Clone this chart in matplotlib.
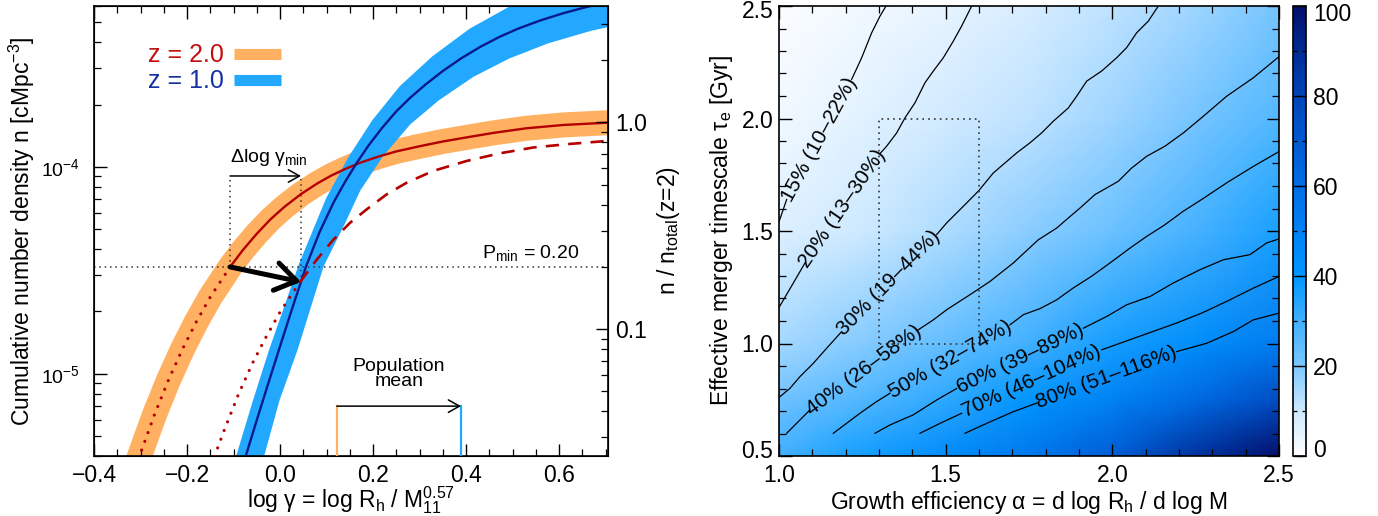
import numpy as np
import matplotlib
matplotlib.use('Agg')
import matplotlib.pyplot as plt
from matplotlib.colors import LinearSegmentedColormap
from matplotlib.ticker import FixedLocator, LogLocator, NullFormatter, FuncFormatter, MultipleLocator
from matplotlib.lines import Line2D
from matplotlib.transforms import ScaledTranslation, blended_transform_factory

plt.rcParams['font.family'] = ['Liberation Sans', 'DejaVu Sans']
plt.rcParams['mathtext.fontset'] = 'custom'
plt.rcParams['mathtext.rm'] = 'Liberation Sans'
plt.rcParams['mathtext.it'] = 'Liberation Sans:italic'
plt.rcParams['mathtext.bf'] = 'Liberation Sans:bold'
plt.rcParams['mathtext.default'] = 'regular'

# ---------------- left panel data ----------------
# z = 2.0 cumulative number density curve (log10 n)
x_z2 = [-0.33, -0.3026, -0.27, -0.24, -0.21, -0.18, -0.15, -0.1075, -0.08, -0.05, -0.02, 0.01,
        0.0452, 0.08, 0.11, 0.14, 0.172, 0.21, 0.25, 0.30, 0.35, 0.4015, 0.46, 0.53, 0.61, 0.705]
logn_z2 = [-5.582, -5.401, -5.198, -5.031, -4.882, -4.749, -4.629, -4.484, -4.402, -4.323, -4.252,
           -4.192, -4.131, -4.080, -4.042, -4.010, -3.980, -3.951, -3.925, -3.900, -3.877, -3.857,
           -3.835, -3.813, -3.797, -3.786]
i_start_z2 = 7  # solid part starts at gamma_min

# z = 1.0 curve (log10 n)
x_z1 = [-0.0735, -0.05, -0.025, 0.0, 0.0251, 0.056, 0.085, 0.115, 0.14, 0.165, 0.19, 0.2187,
        0.25, 0.28, 0.313, 0.35, 0.39, 0.43, 0.47, 0.51, 0.559, 0.61, 0.66, 0.705]
logn_z1 = [-5.396, -5.224, -5.044, -4.867, -4.691, -4.480, -4.315, -4.172, -4.071, -3.980, -3.897,
           -3.813, -3.731, -3.665, -3.601, -3.536, -3.474, -3.420, -3.373, -3.333, -3.292, -3.256,
           -3.226, -3.203]
# z = 1.0 uncertainty band edges
x_z1_up = [-0.105, -0.0946, -0.0581, -0.0237, 0.0065, 0.0409, 0.0989, 0.1473, 0.1987, 0.2572,
           0.3277, 0.4082, 0.491, 0.5419, 0.6022, 0.75]
logn_z1_up = [-5.47, -5.40, -5.128, -4.885, -4.691, -4.4675, -4.152, -3.951, -3.773, -3.610,
              -3.4646, -3.3306, -3.2272, -3.1772, -3.1374, -3.0]
x_z1_lo = [-0.05, -0.0344, -0.0011, 0.0376, 0.0645, 0.0935, 0.1398, 0.1725, 0.2213, 0.2802,
           0.3409, 0.4155, 0.4918, 0.5757, 0.6688, 0.7097, 0.7742]
logn_z1_lo = [-5.47, -5.40, -5.128, -4.885, -4.691, -4.482, -4.272, -4.114, -3.9485, -3.7937,
              -3.6786, -3.5646, -3.4767, -3.4029, -3.3417, -3.3218, -3.2927]

# shifted z = 2 curve (dashed above P_min, dotted below)
x_shift_hi = [0.043, 0.0467, 0.079, 0.115, 0.1505, 0.1864, 0.229, 0.2725, 0.3297, 0.4015,
              0.473, 0.5448, 0.6165, 0.705]
logn_shift_hi = [-4.556, -4.545, -4.448, -4.351, -4.270, -4.205, -4.133, -4.076, -4.019, -3.971,
                 -3.934, -3.906, -3.890, -3.874]
x_shift_lo = [0.043, 0.0005, -0.0295, -0.0595, -0.0895, -0.1195, -0.141, -0.16]
logn_shift_lo = [-4.556, -4.70, -4.82, -4.95, -5.10, -5.27, -5.40, -5.52]

n_total = 1.642e-4
p_min = 0.20
gamma_min = [-0.1075, 0.045]          # z=2 and z=1 at P_min
delta_arrow_n = 9.04e-5
arrow_end_n = 10 ** -4.556
pop_mean = [0.122, 0.389]             # z=2, z=1
pop_mean_n = 6.97e-6

# ---------------- right panel data ----------------
grid_alpha = [1.0, 1.25, 1.5, 1.75, 2.0, 2.25, 2.5]
grid_tau = [0.5, 0.75, 1.0, 1.5, 2.0, 2.5]
grid_val = [
    [30, 37, 45, 55, 68, 87, 100],
    [22, 27, 33, 41, 50, 62, 76],
    [15, 19, 24, 30, 37, 44, 53],
    [7, 10, 14, 18, 23, 29, 36],
    [3, 6, 9, 12, 16, 21, 27],
    [1, 3, 5, 8, 12, 16, 21],
]

contour_labels = ['15% (10–22%)', '20% (13–30%)', '30% (19–44%)', '40% (26–58%)',
                  '50% (32–74%)', '60% (39–89%)', '70% (46–104%)', '80% (51–116%)']
contour_a = [  # segment before label
    [(1.0, 1.541), (1.023, 1.64)],
    [(1.0, 1.16), (1.043, 1.269), (1.078, 1.358)],
    [(1.0, 0.76), (1.033, 0.801), (1.063, 0.853), (1.103, 0.912), (1.143, 0.979), (1.188, 1.053)],
    [(1.023, 0.601), (1.093, 0.705)],
    [(1.163, 0.601), (1.243, 0.69), (1.293, 0.742), (1.333, 0.779)],
    [(1.288, 0.601), (1.333, 0.638), (1.403, 0.683), (1.473, 0.749), (1.533, 0.80)],
    [(1.423, 0.601), (1.483, 0.645), (1.548, 0.69)],
    [(1.558, 0.601), (1.623, 0.645), (1.703, 0.697), (1.773, 0.735)],
]
contour_b = [  # segment after label
    [(1.218, 2.174), (1.248, 2.270), (1.278, 2.381), (1.303, 2.455), (1.321, 2.5)],
    [(1.303, 1.844), (1.323, 1.877), (1.353, 1.936), (1.378, 2.003), (1.408, 2.07), (1.438, 2.159),
     (1.463, 2.211), (1.493, 2.270), (1.523, 2.344), (1.548, 2.411), (1.578, 2.5)],
    [(1.473, 1.484), (1.503, 1.536), (1.543, 1.595), (1.598, 1.677), (1.643, 1.758), (1.713, 1.847),
     (1.753, 1.892), (1.788, 1.936), (1.823, 1.988), (1.868, 2.047), (1.893, 2.099), (1.923, 2.166),
     (1.968, 2.211), (2.013, 2.27), (2.043, 2.315), (2.073, 2.381), (2.108, 2.433), (2.138, 2.5)],
    [(1.418, 1.061), (1.463, 1.105), (1.503, 1.15), (1.573, 1.217), (1.633, 1.276), (1.703, 1.358),
     (1.778, 1.461), (1.833, 1.513), (1.868, 1.558), (1.903, 1.602), (1.948, 1.662),
     (2.018, 1.721), (2.058, 1.78), (2.103, 1.832), (2.158, 1.877), (2.213, 1.936), (2.273, 2.01),
     (2.343, 2.099), (2.423, 2.181), (2.5, 2.275)],
    [(1.693, 1.083), (1.733, 1.128), (1.783, 1.155), (1.833, 1.194), (1.883, 1.247), (1.938, 1.299),
     (1.993, 1.358), (2.053, 1.424), (2.103, 1.476), (2.155, 1.525), (2.213, 1.588), (2.268, 1.64),
     (2.343, 1.714), (2.423, 1.787), (2.5, 1.853)],
    [(1.913, 1.068), (1.983, 1.12), (2.043, 1.172), (2.113, 1.209), (2.183, 1.269), (2.263, 1.328),
     (2.333, 1.372), (2.413, 1.395), (2.463, 1.447), (2.5, 1.465)],
    [(1.968, 0.972), (2.023, 1.001), (2.108, 1.046), (2.193, 1.091), (2.268, 1.135), (2.343, 1.187),
     (2.423, 1.246), (2.5, 1.298)],
    [(2.193, 0.964), (2.283, 1.001), (2.363, 1.053), (2.423, 1.105), (2.5, 1.135)],
]
box_alpha = [1.3, 1.6]
box_tau = [1.0, 2.0]
tau_ticks_end = [0.5, 2.5]
cbar_ticks = [0, 20, 40, 60, 80, 100]

# ---------------- styles ----------------
ORANGE = '#FFB060'
BLUE = '#22A8FF'
RED = '#B40000'
NAVY = '#0A1A8C'
RED_T = '#C01010'
NAVY_T = '#1530A0'
FS_TICK = 16.5
FS_LAB = 16.5
DOT = (0, (1, 2.5))

def fmt1(v, pos=None):
    if abs(v) < 1e-9:
        v = 0.0
    return f'{v:.1f}'.replace('-', '\u2212')

fig = plt.figure(figsize=(13.78, 5.16), dpi=100)
W, H = 1378.0, 516.0

def px_offset(dx, dy):
    return ScaledTranslation(dx / 100.0, dy / 100.0, fig.dpi_scale_trans)

# ================= left panel =================
ax = fig.add_axes([94 / W, 60 / H, 514 / W, 450 / H])
ax.set_yscale('log')
ax.set_xlim(-0.4, 0.705)
ax.set_ylim(4e-6, 6e-4)

xz2 = np.array(x_z2); nz2 = 10 ** np.array(logn_z2)
ax.plot(xz2, nz2, color=ORANGE, lw=18, solid_capstyle='butt', solid_joinstyle='round', zorder=1)
poly_x = np.concatenate([x_z1_up, x_z1_lo[::-1]])
poly_y = 10 ** np.concatenate([logn_z1_up, logn_z1_lo[::-1]])
ax.fill(poly_x, poly_y, color=BLUE, lw=0, zorder=2)

dots = dict(color=RED, lw=2.3, ls=(0, (0.01, 2.9)), dash_capstyle='round', zorder=4)
ax.plot(xz2[:i_start_z2 + 1], nz2[:i_start_z2 + 1], **dots)
ax.plot(xz2[i_start_z2:], nz2[i_start_z2:], color=RED, lw=1.7, zorder=4)
ax.plot(x_z1, 10 ** np.array(logn_z1), color=NAVY, lw=1.7, zorder=4)
ax.plot(x_shift_hi, 10 ** np.array(logn_shift_hi), color=RED, lw=1.9, ls=(0, (5, 3.5)), zorder=4)
ax.plot(x_shift_lo, 10 ** np.array(logn_shift_lo), **dots)

# P_min line and gamma_min construction
pmin_n = p_min * n_total
ax.axhline(pmin_n, color='#333333', lw=1.1, ls=DOT, zorder=3)
ax.plot([gamma_min[0], gamma_min[0]], [pmin_n, delta_arrow_n], color='#333333', lw=1.1,
        ls=DOT, zorder=3)
ax.plot([gamma_min[1], gamma_min[1]], [arrow_end_n, delta_arrow_n], color='#333333', lw=1.1,
        ls=DOT, zorder=3)
ax.annotate('', xy=(gamma_min[1], delta_arrow_n), xytext=(gamma_min[0], delta_arrow_n),
            arrowprops=dict(arrowstyle='->,head_length=0.8,head_width=0.45', lw=1.1, color='k',
                            shrinkA=0, shrinkB=0, mutation_scale=10), zorder=5)
ax.text(gamma_min[0], 1.06e-4, 'Δlog γ$_{\\rm min}$', fontsize=14, ha='left', va='baseline')
ax.annotate('', xy=(gamma_min[1], arrow_end_n), xytext=(gamma_min[0], pmin_n),
            arrowprops=dict(arrowstyle='->,head_length=1.5,head_width=1.0', lw=3.6, color='k',
                            shrinkA=0, shrinkB=0, mutation_scale=10), zorder=6)
ax.text(0.643, pmin_n * 1.1, 'P$_{\\rm min}$ = %.2f' % p_min, fontsize=14, ha='right', va='baseline')

# population mean
ax.plot([pop_mean[0], pop_mean[0]], [4e-6, pop_mean_n], color=ORANGE, lw=1.6, zorder=3)
ax.plot([pop_mean[1], pop_mean[1]], [4e-6, pop_mean_n], color=BLUE, lw=1.6, zorder=3)
ax.annotate('', xy=(pop_mean[1], pop_mean_n), xytext=(pop_mean[0], pop_mean_n),
            arrowprops=dict(arrowstyle='->,head_length=0.8,head_width=0.45', lw=1.1, color='k',
                            shrinkA=0, shrinkB=0, mutation_scale=10), zorder=5)
ax.text(0.5 * (pop_mean[0] + pop_mean[1]), 1.0e-5, 'Population\nmean', fontsize=14,
        ha='center', va='center', linespacing=0.85)

# legend (text followed by colour swatch)
leg_labels = ['z = 2.0', 'z = 1.0']
leg_text_colors = [RED_T, NAVY_T]
leg_colors = [ORANGE, BLUE]
leg_y = [0.876, 0.818]
for lab, tc, pc, yy in zip(leg_labels, leg_text_colors, leg_colors, leg_y):
    ax.text(0.105, yy, lab, color=tc, fontsize=18, transform=ax.transAxes, ha='left', va='baseline')
    ax.add_line(Line2D([0.272, 0.364], [yy + 0.018, yy + 0.018], transform=ax.transAxes,
                       color=pc, lw=8, solid_capstyle='butt'))

ax.xaxis.set_major_locator(MultipleLocator(0.2))
ax.xaxis.set_minor_locator(MultipleLocator(0.05))
ax.xaxis.set_major_formatter(FuncFormatter(fmt1))
ax.yaxis.set_major_locator(LogLocator(base=10, numticks=10))
ax.yaxis.set_minor_locator(LogLocator(base=10, subs=np.arange(2, 10), numticks=20))
ax.yaxis.set_minor_formatter(NullFormatter())
ax.tick_params(which='both', direction='in', top=True, right=False, labelsize=FS_TICK)
ax.tick_params(which='major', length=9, width=1)
ax.tick_params(which='minor', length=5, width=0.9)
ax.tick_params(axis='x', pad=6)
ax.tick_params(axis='y', pad=10, labelsize=14)
ax.set_xlabel('log γ = log R$_{\\rm h}$ / M$_{11}^{0.57}$', fontsize=FS_LAB, labelpad=-2)
ax.set_ylabel('Cumulative number density n [cMpc$^{-3}$]', fontsize=FS_LAB, labelpad=3)
for s in ax.spines.values():
    s.set_linewidth(1.2)

ax2 = ax.twinx()
ax2.set_yscale('log')
ax2.set_ylim(4e-6 / n_total, 6e-4 / n_total)
ax2.yaxis.set_major_locator(FixedLocator([0.1, 1.0]))
ax2.yaxis.set_major_formatter(FuncFormatter(fmt1))
ax2.yaxis.set_minor_locator(LogLocator(base=10, subs=np.arange(2, 10), numticks=20))
ax2.yaxis.set_minor_formatter(NullFormatter())
ax2.tick_params(which='both', direction='in', labelsize=FS_TICK, pad=5)
ax2.tick_params(which='major', length=9, width=1)
ax2.tick_params(which='minor', length=5, width=0.9)
ax2.set_ylabel('n / n$_{\\rm total}$(z=2)', fontsize=FS_LAB, labelpad=6)

# ================= right panel =================
cmap = LinearSegmentedColormap.from_list('bl', [
    (0.0, (1.0, 1.0, 1.0)), (0.1, (0.80, 0.91, 1.0)), (0.2, (0.48, 0.78, 1.0)),
    (0.3, (0.25, 0.69, 1.0)), (0.4, (0.0, 0.59, 1.0)), (0.5, (0.0, 0.51, 0.96)),
    (0.6, (0.0, 0.43, 0.90)), (0.7, (0.0, 0.35, 0.82)), (0.8, (0.0, 0.27, 0.72)),
    (0.9, (0.0, 0.17, 0.58)), (1.0, (0.02, 0.06, 0.42))])

axr = fig.add_axes([779 / W, 60 / H, 500 / W, 450 / H])
A, T = np.meshgrid(grid_alpha, grid_tau)
mesh = axr.pcolormesh(A, T, np.array(grid_val, float), shading='gouraud', cmap=cmap,
                      vmin=0, vmax=100, rasterized=True)
axr.set_xlim(1.0, 2.5)
axr.set_ylim(0.5, 2.5)

for lab, sa, sb in zip(contour_labels, contour_a, contour_b):
    a = np.array(sa); b = np.array(sb)
    axr.plot(a[:, 0], a[:, 1], color='k', lw=0.9)
    axr.plot(b[:, 0], b[:, 1], color='k', lw=0.9)
    p0 = axr.transData.transform(a[-1]); p1 = axr.transData.transform(b[0])
    ang = np.degrees(np.arctan2(p1[1] - p0[1], p1[0] - p0[0]))
    mid = 0.5 * (a[-1] + b[0])
    axr.text(mid[0], mid[1], lab, fontsize=15, rotation=ang, rotation_mode='anchor',
             ha='center', va='center')

axr.plot([box_alpha[0], box_alpha[0], box_alpha[1], box_alpha[1], box_alpha[0]],
         [box_tau[0], box_tau[1], box_tau[1], box_tau[0], box_tau[0]], color='#333333', lw=1.2,
         ls=DOT)

def fmt_tau(v, pos=None):
    if any(abs(v - e) < 1e-9 for e in tau_ticks_end):
        return ''
    return fmt1(v)

axr.xaxis.set_major_locator(MultipleLocator(0.5))
axr.xaxis.set_minor_locator(MultipleLocator(0.1))
axr.yaxis.set_major_locator(MultipleLocator(0.5))
axr.yaxis.set_minor_locator(MultipleLocator(0.1))
axr.xaxis.set_major_formatter(FuncFormatter(fmt1))
axr.yaxis.set_major_formatter(FuncFormatter(fmt_tau))
axr.tick_params(which='both', direction='in', top=True, right=True, labelsize=FS_TICK)
axr.tick_params(which='major', length=9, width=1)
axr.tick_params(which='minor', length=5, width=0.9)
axr.tick_params(axis='x', pad=6)
axr.tick_params(axis='y', pad=4)
# end labels of the tau axis kept inside the frame height
ytrans = blended_transform_factory(axr.transAxes, axr.transData)
axr.text(0, tau_ticks_end[0], fmt1(tau_ticks_end[0]), fontsize=FS_TICK, ha='right',
         va='center_baseline', transform=ytrans + px_offset(-5.5, 7))
axr.text(0, tau_ticks_end[1], fmt1(tau_ticks_end[1]), fontsize=FS_TICK, ha='right',
         va='center_baseline', transform=ytrans + px_offset(-5.5, -3))
axr.set_xlabel('Growth efficiency α = d log R$_{\\rm h}$ / d log M', fontsize=FS_LAB, labelpad=1)
axr.set_ylabel('Effective merger timescale τ$_{\\rm e}$ [Gyr]', fontsize=FS_LAB, labelpad=5)
for s in axr.spines.values():
    s.set_linewidth(1.2)

cax = fig.add_axes([1293 / W, 60 / H, 13 / W, 450 / H])
cb = fig.colorbar(mesh, cax=cax)
cb.set_ticks(cbar_ticks)
cb.ax.yaxis.set_major_formatter(FuncFormatter(
    lambda v, p: '' if (abs(v - cbar_ticks[0]) < 1e-9 or abs(v - cbar_ticks[-1]) < 1e-9) else f'{v:.0f}'))
cb.ax.yaxis.set_minor_locator(MultipleLocator(10))
cb.ax.tick_params(which='both', direction='in', left=True, right=True, labelsize=FS_TICK, pad=5)
cb.ax.tick_params(which='major', length=5, width=1)
cb.ax.tick_params(which='minor', length=3, width=0.9)
cb.outline.set_linewidth(1.2)
ctrans = blended_transform_factory(cax.transAxes, cax.transData)
cax.text(1, cbar_ticks[0], f'{cbar_ticks[0]:d}', fontsize=FS_TICK, ha='left', va='center_baseline',
         transform=ctrans + px_offset(7, 8))
cax.text(1, cbar_ticks[-1], f'{cbar_ticks[-1]:d}', fontsize=FS_TICK, ha='left', va='center_baseline',
         transform=ctrans + px_offset(7, -6))

fig.savefig('out.png', dpi=100)
